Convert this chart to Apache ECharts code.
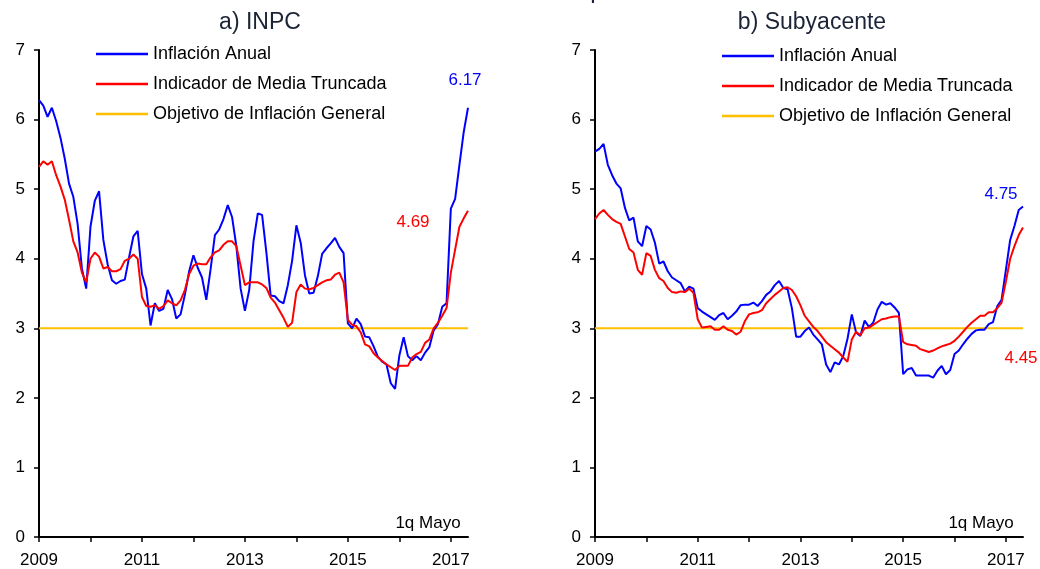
<!DOCTYPE html>
<html><head><meta charset="utf-8">
<script src="https://cdn.jsdelivr.net/npm/echarts@6/dist/echarts.min.js"></script>
<style>html,body{margin:0;padding:0;background:#fff}#c{width:1040px;height:569px}</style>
</head><body><div id="c"></div>
<script>
// Monthly categories Jan 2009 .. Apr 2017, then 1st fortnight of May 2017
const categories = [];
for (let y = 2009; y <= 2017; y++) {
  for (let m = 1; m <= 12; m++) {
    if (y === 2017 && m > 4) break;
    categories.push(y + '-' + (m < 10 ? '0' + m : m));
  }
}
categories.push('1q May 2017');

const seriesNames = ['Inflación Anual', 'Indicador de Media Truncada', 'Objetivo de Inflación General'];
const panelTitles = ['a) INPC', 'b) Subyacente'];
const yTicks = [0, 1, 2, 3, 4, 5, 6, 7];
const target = 3;

// a) INPC
const inpcAnual = [
  6.28, 6.20, 6.04, 6.17, 5.98, 5.74, 5.44, 5.08, 4.89, 4.50, 3.86, 3.57,
  4.46, 4.83, 4.97, 4.27, 3.92, 3.69, 3.64, 3.68, 3.70, 4.02, 4.32, 4.40,
  3.78, 3.57, 3.04, 3.36, 3.25, 3.28, 3.55, 3.42, 3.14, 3.20, 3.48, 3.82,
  4.05, 3.87, 3.73, 3.41, 3.85, 4.34, 4.42, 4.57, 4.77, 4.60, 4.18, 3.57,
  3.25, 3.55, 4.25, 4.65, 4.63, 4.09, 3.47, 3.46, 3.39, 3.36, 3.62, 3.97,
  4.48, 4.23, 3.76, 3.50, 3.51, 3.75, 4.07, 4.15, 4.22, 4.30, 4.17, 4.08,
  3.07, 3.00, 3.14, 3.06, 2.88, 2.87, 2.74, 2.59, 2.52, 2.48, 2.21, 2.13,
  2.61, 2.87, 2.60, 2.54, 2.60, 2.54, 2.65, 2.73, 2.97, 3.06, 3.31, 3.36,
  4.72, 4.86, 5.35, 5.82, 6.17
];
const inpcTruncada = [
  5.32, 5.40, 5.35, 5.40, 5.20, 5.04, 4.85, 4.56, 4.25, 4.09, 3.80, 3.66,
  4.00, 4.09, 4.03, 3.86, 3.88, 3.82, 3.82, 3.85, 3.97, 4.00, 4.06, 4.00,
  3.45, 3.32, 3.31, 3.33, 3.28, 3.32, 3.40, 3.36, 3.33, 3.40, 3.55, 3.78,
  3.90, 3.93, 3.92, 3.92, 4.02, 4.09, 4.12, 4.20, 4.25, 4.25, 4.18, 3.90,
  3.62, 3.66, 3.66, 3.66, 3.63, 3.58, 3.44, 3.37, 3.26, 3.15, 3.02, 3.08,
  3.52, 3.63, 3.57, 3.56, 3.58, 3.62, 3.66, 3.69, 3.70, 3.77, 3.80, 3.66,
  3.12, 3.05, 3.03, 2.94, 2.77, 2.74, 2.64, 2.58, 2.53, 2.48, 2.44, 2.40,
  2.46, 2.46, 2.46, 2.58, 2.63, 2.66, 2.79, 2.84, 3.00, 3.08, 3.18, 3.29,
  3.80, 4.13, 4.46, 4.58, 4.69
];

// b) Subyacente
const subAnual = [
  5.54, 5.58, 5.65, 5.35, 5.20, 5.08, 5.01, 4.73, 4.55, 4.59, 4.25, 4.18,
  4.47, 4.42, 4.23, 3.93, 3.96, 3.82, 3.73, 3.69, 3.65, 3.53, 3.60, 3.57,
  3.29, 3.24, 3.20, 3.16, 3.12, 3.19, 3.22, 3.13, 3.18, 3.24, 3.33, 3.34,
  3.34, 3.37, 3.32, 3.39, 3.48, 3.53, 3.62, 3.68, 3.58, 3.56, 3.29, 2.88,
  2.88, 2.96, 3.01, 2.91, 2.84, 2.77, 2.48, 2.37, 2.51, 2.48, 2.60, 2.85,
  3.20, 2.94, 2.89, 3.11, 3.02, 3.08, 3.27, 3.38, 3.34, 3.36, 3.30, 3.22,
  2.34, 2.41, 2.43, 2.32, 2.32, 2.32, 2.32, 2.29, 2.39, 2.46, 2.34, 2.40,
  2.63, 2.68, 2.77, 2.85, 2.92, 2.97, 2.98, 2.98, 3.06, 3.09, 3.32, 3.41,
  3.84, 4.27, 4.47, 4.70, 4.75
];
const subTruncada = [
  4.57, 4.65, 4.70, 4.63, 4.57, 4.53, 4.50, 4.32, 4.14, 4.09, 3.84, 3.77,
  4.08, 4.04, 3.84, 3.72, 3.68, 3.58, 3.52, 3.51, 3.53, 3.52, 3.57, 3.51,
  3.13, 3.01, 3.02, 3.03, 2.98, 2.98, 3.03, 2.98, 2.96, 2.91, 2.95, 3.10,
  3.20, 3.22, 3.23, 3.26, 3.36, 3.42, 3.48, 3.53, 3.58, 3.59, 3.55, 3.46,
  3.33, 3.18, 3.10, 3.02, 2.96, 2.88, 2.80, 2.75, 2.70, 2.65, 2.58, 2.52,
  2.84, 2.95, 2.90, 3.00, 3.01, 3.05, 3.09, 3.13, 3.14, 3.16, 3.17, 3.17,
  2.80, 2.77, 2.76, 2.75, 2.70, 2.68, 2.66, 2.68, 2.71, 2.74, 2.76, 2.78,
  2.82, 2.88, 2.95, 3.02, 3.08, 3.13, 3.18, 3.18, 3.23, 3.23, 3.29, 3.37,
  3.67, 4.00, 4.18, 4.34, 4.45
];

const FONT = '"Liberation Sans", Arial, sans-serif';
const BLUE = '#0000FF', RED = '#FF0000', ORANGE = '#FFC000';
const lastCat = categories[categories.length - 1];

function xAx(g) {
  return {
    type: 'category', gridIndex: g, data: categories, boundaryGap: false,
    axisLine: { lineStyle: { color: '#000', width: 2 } },
    axisTick: { show: true, interval: (i) => i % 12 === 0, length: 5, lineStyle: { color: '#000', width: 1.5 } },
    axisLabel: { interval: (i) => i % 24 === 0, formatter: (v) => v.slice(0, 4), color: '#000', fontSize: 17, margin: 15, fontFamily: FONT },
    splitLine: { show: false }
  };
}
function yAx(g) {
  return {
    type: 'value', gridIndex: g, min: yTicks[0], max: yTicks[yTicks.length - 1], interval: 1,
    axisLine: { show: true, lineStyle: { color: '#000', width: 2 } },
    axisTick: { show: true, length: 5, lineStyle: { color: '#000', width: 1.5 } },
    axisLabel: { color: '#000', fontSize: 17, margin: 14, fontFamily: FONT },
    splitLine: { show: false }
  };
}
function endMark(val, color, offset) {
  return {
    symbol: 'circle', symbolSize: 1, itemStyle: { color: 'rgba(0,0,0,0)' },
    data: [{ coord: [lastCat, val], value: val }],
    label: { show: true, position: 'inside', offset: offset, color: color, fontSize: 17, fontFamily: FONT, formatter: (p) => p.value.toFixed(2) }
  };
}
function panelSeries(g, anual, trunc, offA, offT) {
  const base = { type: 'line', xAxisIndex: g, yAxisIndex: g, showSymbol: false, symbol: 'none', animation: false };
  return [
    Object.assign({}, base, { name: seriesNames[0], data: anual, lineStyle: { color: BLUE, width: 2 }, itemStyle: { color: BLUE }, z: 3,
      markPoint: endMark(anual[anual.length - 1], BLUE, offA) }),
    Object.assign({}, base, { name: seriesNames[1], data: trunc, lineStyle: { color: RED, width: 2 }, itemStyle: { color: RED }, z: 4,
      markPoint: endMark(trunc[trunc.length - 1], RED, offT) }),
    Object.assign({}, base, { name: seriesNames[2], data: categories.map(() => target), lineStyle: { color: ORANGE, width: 2 }, itemStyle: { color: ORANGE }, z: 2 })
  ];
}
function legendAt(left, top) {
  return {
    left: left, top: top, orient: 'vertical', icon: 'rect', itemWidth: 52, itemHeight: 2.5, itemGap: 10, padding: 0,
    textStyle: { fontSize: 18, color: '#000', lineHeight: 20, fontFamily: FONT },
    data: seriesNames, selectedMode: false
  };
}
function txt(x, y, s, size, color) {
  return { type: 'text', x: x, y: y, style: { text: s, fontSize: size, fill: color, fontFamily: FONT, align: 'center', verticalAlign: 'middle' } };
}

const chart = echarts.init(document.getElementById('c'), null, { renderer: 'canvas' });
chart.setOption({
  backgroundColor: '#fff',
  animation: false,
  grid: [
    { left: 39, right: 572, top: 50, bottom: 31 },
    { left: 595, right: 17, top: 50, bottom: 31 }
  ],
  xAxis: [xAx(0), xAx(1)],
  yAxis: [yAx(0), yAx(1)],
  legend: [legendAt(96, 44), legendAt(722, 46)],
  series: [].concat(
    panelSeries(0, inpcAnual, inpcTruncada, [-3, -27], [-55, 12]),
    panelSeries(1, subAnual, subTruncada, [-22, -12], [-2, 131])
  ),
  graphic: [
    txt(541, -9, 'Variación anual en por ciento', 24, '#1b2436'),
    txt(260, 23, panelTitles[0], 23, '#1b2436'),
    txt(812, 23, panelTitles[1], 23, '#1b2436'),
    txt(428, 523, '1q Mayo', 17, '#000'),
    txt(981, 523, '1q Mayo', 17, '#000')
  ]
});
</script></body></html>
